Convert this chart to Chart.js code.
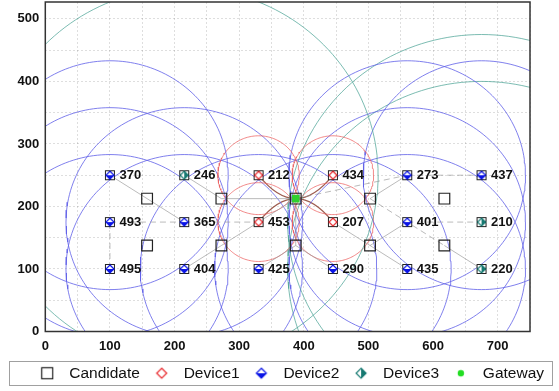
<!DOCTYPE html>
<html>
<head>
<meta charset="utf-8">
<script src="https://cdn.jsdelivr.net/npm/chart.js@4.4.1/dist/chart.umd.min.js"></script>
<style>
html, body { margin: 0; padding: 0; background: #fff; }
#wrap { width: 559px; height: 391px; }
</style>
</head>
<body>
<div id="wrap"><canvas id="placement-chart"></canvas></div>
<script>
// devices (label, position, type 1..3)
var deviceNames = ['370', '246', '212', '434', '273', '437',
                   '493', '365', '453', '207', '401', '210',
                   '495', '404', '425', '290', '435', '220'];
var deviceX = [100, 215, 330, 445, 560, 675,
               100, 215, 330, 445, 560, 675,
               100, 215, 330, 445, 560, 675];
var deviceY = [250, 250, 250, 250, 250, 250,
               175, 175, 175, 175, 175, 175,
               100, 100, 100, 100, 100, 100];
var deviceType = [2, 3, 1, 1, 2, 2,
                  2, 2, 1, 1, 2, 3,
                  2, 2, 2, 2, 2, 3];
// radio range per device type
var typeRange = [0, 63, 183, 300];

// candidate gateway sites
var candNames = ['C1', 'C2', 'C3', 'C4', 'C5', 'C6', 'C7', 'C8', 'C9', 'C10'];
var candX = [157.5, 157.5, 272.5, 272.5, 387.5, 387.5, 502.5, 502.5, 617.5, 617.5];
var candY = [212.5, 137.5, 212.5, 137.5, 212.5, 137.5, 212.5, 137.5, 212.5, 137.5];

var gatewayX = [387.5];
var gatewayY = [212.5];

// links between nodes
var solidLinks = [['370', 'C1'], ['C1', '365'], ['246', 'C3'], ['C3', 'GW'],
                  ['404', 'C4'], ['C4', 'GW'], ['425', 'C6'], ['C6', 'GW'],
                  ['C6', '290'], ['273', 'C7'], ['207', 'C8'], ['C8', '401'],
                  ['C8', '435'], ['C10', '220']];
var dashedLinks = [['493', '365'], ['365', '453'], ['GW', '273'], ['273', '437'],
                   ['401', '210'], ['C7', 'C10'], ['495', '493']];

var xTicks = [0, 50, 100, 150, 200, 250, 300, 350, 400, 450, 500, 550, 600, 650, 700, 750];
var yTicks = [0, 50, 100, 150, 200, 250, 300, 350, 400, 450, 500];

var legendNames = ['Candidate', 'Device1', 'Device2', 'Device3', 'Gateway'];

var LEG_SHIFT = 9;
var FONT = '"Liberation Sans", Arial, sans-serif';

function pointOf(name) {
    var i = deviceNames.indexOf(name);
    if (i >= 0) return { x: deviceX[i], y: deviceY[i] };
    i = candNames.indexOf(name);
    if (i >= 0) return { x: candX[i], y: candY[i] };
    return { x: gatewayX[0], y: gatewayY[0] };
}

function circlePoints(cx, cy, r) {
    var pts = [];
    for (var a = 0; a <= 360; a += 2) {
        var t = a * Math.PI / 180;
        pts.push({ x: cx + r * Math.cos(t), y: cy + r * Math.sin(t) });
    }
    return pts;
}

function diamond(g, cx, cy, h) {
    g.beginPath();
    g.moveTo(cx, cy - h);
    g.lineTo(cx + h, cy);
    g.lineTo(cx, cy + h);
    g.lineTo(cx - h, cy);
    g.closePath();
}

function makeIcon(type, framed) {
    var c = document.createElement('canvas');
    c.width = 14;
    c.height = 14;
    var g = c.getContext('2d');
    var m = 7, h = framed ? 4 : 5;
    if (framed) {
        g.fillStyle = '#fff';
        g.fillRect(2.5, 2.5, 9, 9);
        g.strokeStyle = '#222';
        g.lineWidth = 1;
        g.strokeRect(2.5, 2.5, 9, 9);
    }
    if (type == 1) {
        diamond(g, m, m, h);
        g.fillStyle = '#fff';
        g.fill();
        g.strokeStyle = '#e8262a';
        g.lineWidth = 1.2;
        g.stroke();
    } else if (type == 2) {
        diamond(g, m, m, h);
        g.fillStyle = '#fff';
        g.fill();
        g.beginPath();
        g.moveTo(m - h, m);
        g.lineTo(m + h, m);
        g.lineTo(m, m + h);
        g.closePath();
        g.fillStyle = '#0a14e6';
        g.fill();
        diamond(g, m, m, h);
        g.strokeStyle = '#0a14e6';
        g.lineWidth = 1.2;
        g.stroke();
    } else if (type == 3) {
        diamond(g, m, m, h);
        g.fillStyle = '#fff';
        g.fill();
        g.beginPath();
        g.moveTo(m, m - h);
        g.lineTo(m + h, m);
        g.lineTo(m, m + h);
        g.closePath();
        g.fillStyle = '#177a72';
        g.fill();
        diamond(g, m, m, h);
        g.strokeStyle = '#177a72';
        g.lineWidth = 1.2;
        g.stroke();
    } else if (type == 'cand') {
        g.strokeStyle = '#222';
        g.lineWidth = 1.2;
        g.strokeRect(1.5, 1.5, 11, 11);
    } else if (type == 'gw') {
        g.beginPath();
        g.arc(m, m, 3.2, 0, Math.PI * 2);
        g.fillStyle = '#22dd22';
        g.fill();
    }
    return c;
}

var markerIcons = [null, makeIcon(1, true), makeIcon(2, true), makeIcon(3, true)];
var legendIcons = [makeIcon('cand'), makeIcon(1, false), makeIcon(2, false), makeIcon(3, false), makeIcon('gw')];

var datasets = [];

datasets.push({
    label: 'Candidate',
    data: candX.map(function (x, i) { return { x: x, y: candY[i] }; }),
    pointStyle: 'rect',
    pointRadius: 7.6,
    backgroundColor: 'rgba(0,0,0,0)',
    borderColor: '#222',
    borderWidth: 1.2,
    order: 0
});
datasets.push({
    label: 'Gateway',
    data: gatewayX.map(function (x, i) { return { x: x, y: gatewayY[i] }; }),
    pointStyle: 'rect',
    pointRadius: 5.5,
    backgroundColor: '#2fcf2f',
    borderWidth: 0,
    order: 1
});
[1, 2, 3].forEach(function (t) {
    var pts = [];
    for (var i = 0; i < deviceNames.length; i++) {
        if (deviceType[i] == t) pts.push({ x: deviceX[i], y: deviceY[i] });
    }
    datasets.push({
        label: 'Device' + t,
        data: pts,
        pointStyle: markerIcons[t],
        pointRadius: 5,
        order: 0
    });
});

function addLinks(list, dash) {
    list.forEach(function (pair) {
        datasets.push({
            label: 'link',
            data: [pointOf(pair[0]), pointOf(pair[1])],
            showLine: true,
            borderColor: 'rgba(150,150,150,0.65)',
            borderWidth: 1,
            borderDash: dash,
            pointRadius: 0,
            order: 2
        });
    });
}
addLinks(solidLinks, []);
addLinks(dashedLinks, [6, 4]);

var circleColors = [null, 'rgba(236,96,96,0.75)', 'rgba(96,96,232,0.8)', 'rgba(80,166,152,0.75)'];
for (var i = 0; i < deviceNames.length; i++) {
    datasets.push({
        label: 'range',
        data: circlePoints(deviceX[i], deviceY[i], typeRange[deviceType[i]]),
        showLine: true,
        borderColor: circleColors[deviceType[i]],
        borderWidth: 1,
        pointRadius: 0,
        order: 3
    });
}

function noPadding(s) {
    s.paddingTop = s.paddingBottom = s.paddingLeft = s.paddingRight = 0;
}

var extras = {
    id: 'extras',
    afterLayout: function (chart) {
        chart.legend.left += LEG_SHIFT;
        chart.legend.right += LEG_SHIFT;
    },
    beforeDatasetsDraw: function (chart) {
        // curved links Device1 -> gateway
        var ctx = chart.ctx, xs = chart.scales.x, ys = chart.scales.y;
        var gx = xs.getPixelForValue(gatewayX[0]), gy = ys.getPixelForValue(gatewayY[0]);
        ctx.save();
        ctx.strokeStyle = 'rgba(140,64,48,0.85)';
        ctx.lineWidth = 1.2;
        for (var i = 0; i < deviceNames.length; i++) {
            if (deviceType[i] != 1) continue;
            var dx = xs.getPixelForValue(deviceX[i]), dy = ys.getPixelForValue(deviceY[i]);
            ctx.beginPath();
            ctx.moveTo(dx, dy);
            ctx.quadraticCurveTo((dx + gx) / 2, gy, gx, gy);
            ctx.stroke();
        }
        ctx.restore();
    },
    afterDatasetsDraw: function (chart) {
        var ctx = chart.ctx, xs = chart.scales.x, ys = chart.scales.y;
        ctx.save();
        ctx.font = 'bold 13px ' + FONT;
        ctx.fillStyle = '#111';
        ctx.textAlign = 'left';
        ctx.textBaseline = 'middle';
        for (var i = 0; i < deviceNames.length; i++) {
            ctx.fillText(deviceNames[i], xs.getPixelForValue(deviceX[i]) + 9.5, ys.getPixelForValue(deviceY[i]) + 0.5);
        }
        ctx.restore();
    },
    afterDraw: function (chart) {
        var ctx = chart.ctx, a = chart.chartArea, lg = chart.legend;
        ctx.save();
        ctx.strokeStyle = '#333';
        ctx.lineWidth = 1.5;
        ctx.strokeRect(a.left, a.top, a.right - a.left, a.bottom - a.top);
        var cy = lg.top + lg.options.labels.padding + 15.5 / 2;
        ctx.strokeStyle = '#a0a0a0';
        ctx.lineWidth = 1;
        ctx.strokeRect(9.5, Math.round(cy - 12) + 0.5, 543, 24);
        ctx.restore();
    }
};

var tickFont = { family: FONT, size: 13, weight: 'bold' };

new Chart(document.getElementById('placement-chart').getContext('2d'), {
    type: 'scatter',
    data: { datasets: datasets },
    plugins: [extras],
    options: {
        responsive: true,
        maintainAspectRatio: false,
        animation: false,
        events: [],
        devicePixelRatio: 1,
        layout: { autoPadding: false, padding: { top: 2, right: 0, bottom: 0, left: 0 } },
        scales: {
            x: {
                type: 'linear',
                min: 0,
                max: 750,
                afterBuildTicks: function (s) { s.ticks = xTicks.map(function (v) { return { value: v }; }); },
                afterFit: function (s) { s.height = 26.5; noPadding(s); },
                grid: { color: 'rgba(0,0,0,0.13)', drawTicks: false },
                border: { display: false, dash: [2, 2] },
                ticks: {
                    autoSkip: false,
                    maxRotation: 0,
                    padding: 7,
                    color: '#111',
                    font: tickFont,
                    callback: function (v) { return v % 100 === 0 ? v : ''; }
                }
            },
            y: {
                type: 'linear',
                min: 0,
                max: 527,
                afterBuildTicks: function (s) { s.ticks = yTicks.map(function (v) { return { value: v }; }); },
                afterFit: function (s) { s.width = 45.3; noPadding(s); },
                grid: { color: 'rgba(0,0,0,0.13)', drawTicks: false },
                border: { display: false, dash: [2, 2] },
                ticks: {
                    padding: 6,
                    color: '#111',
                    font: tickFont,
                    callback: function (v) { return v % 100 === 0 ? v : ''; }
                }
            },
            yRight: {
                type: 'linear',
                position: 'right',
                display: true,
                afterFit: function (s) { s.width = 29; noPadding(s); },
                grid: { display: false, drawTicks: false },
                border: { display: false },
                ticks: { display: false }
            }
        },
        plugins: {
            tooltip: { enabled: false },
            legend: {
                position: 'bottom',
                onClick: null,
                labels: {
                    usePointStyle: true,
                    pointStyleWidth: 28.5,
                    padding: 7.5,
                    color: '#111',
                    font: { family: FONT, size: 15.5 },
                    generateLabels: function () {
                        return legendNames.map(function (n, i) {
                            return {
                                text: n,
                                pointStyle: legendIcons[i],
                                fillStyle: '#fff',
                                strokeStyle: '#fff',
                                lineWidth: 0,
                                hidden: false,
                                fontColor: '#111',
                                datasetIndex: i
                            };
                        });
                    }
                }
            }
        }
    }
});
</script>
</body>
</html>
